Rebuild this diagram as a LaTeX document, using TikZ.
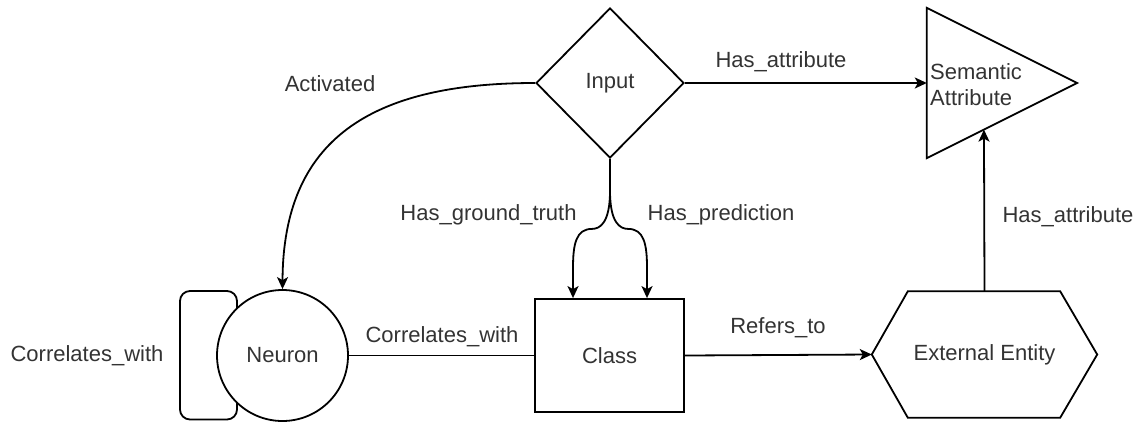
\documentclass[tikz,border=0pt]{standalone}
\usepackage{fontspec}
\setmainfont{Liberation Sans}
\usetikzlibrary{shapes.geometric,arrows.meta,calc}
\definecolor{ink}{HTML}{333333}
\begin{document}
\begin{tikzpicture}[x=1pt,y=-1pt,
  every node/.style={font=\fontsize{22}{26}\selectfont, text=ink},
  edge/.style={line width=1.8pt, draw=black},
  arr/.style={edge, -{Stealth[length=12pt,width=11pt,inset=3pt]}},
  shapeline/.style={line width=1.8pt, draw=black},
  lbl/.style={inner sep=0pt}]
\useasboundingbox (0,0) rectangle (1139,421);

% main entities
\node[diamond, shapeline, minimum width=148pt, minimum height=150pt, inner sep=0pt] (input) at (610,83) {Input};
\node[circle, shapeline, minimum size=131pt, inner sep=0pt] (neuron) at (282.5,355.5) {Neuron};
\node[rectangle, shapeline, minimum width=149pt, minimum height=113pt, inner sep=0pt] (class) at (609.5,355.5) {Class};

% hexagon: External Entity
\node[minimum width=225pt, minimum height=126pt, inner sep=0pt] (ext) at (984.5,354.5) {External Entity};
\draw[shapeline] (ext.west) -- ([xshift=36pt]ext.north west) -- ([xshift=-37pt]ext.north east)
  -- (ext.east) -- ([xshift=-37pt]ext.south east) -- ([xshift=36pt]ext.south west) -- cycle;

% triangle: Semantic Attribute
\node[minimum width=150pt, minimum height=150pt, inner sep=0pt] (sem) at (1002,83) {};
\draw[shapeline, line join=miter] (sem.north west) -- (sem.east) -- (sem.south west) -- cycle;
\node[anchor=west, align=left, inner sep=0pt] (semtxt) at (930,85) {Semantic\\Attribute};
\coordinate (semin) at ($(sem.south west)!0.38!(sem.east)$);

% self loop on the neuron
\draw[edge, rounded corners=10pt]
  ($(neuron.center)+(-45.5,-47)$) -- ($(neuron.center)+(-45.5,-64.5)$)
  -- ($(neuron.center)+(-102.5,-64.5)$) -- ($(neuron.center)+(-102.5,64)$)
  -- ($(neuron.center)+(-45.5,64)$) -- ($(neuron.center)+(-45.5,47)$);
\node[lbl] (lloop) at (87,356) {Correlates\_with};

% Input -> Semantic Attribute
\draw[arr] (input.east) -- (sem.west);
\node[lbl] (lhas1) at (781,62) {Has\_attribute};

% Input -> Neuron
\draw[arr] (input.west) .. controls (370,83) and (283,140) .. (neuron.north);
\node[lbl] (lact) at (330,84) {Activated};

% Input -> Class (ground truth and prediction)
\coordinate (split) at ($(input.south)+(0,32)$);
\coordinate (gtin) at ($(class.north)+(-36.5,0)$);
\coordinate (prin) at ($(class.north)+(37.5,0)$);
\draw[arr] (input.south) -- (split) .. controls ($(split)+(0,32)$) and ($(split)+(-10,38)$) .. ($(split)+(-18,38)$)
  .. controls ($(split)+(-34,38)$) and ($(gtin)+(0,-54)$) .. ($(gtin)+(0,-30)$) -- (gtin);
\draw[arr] (input.south) -- (split) .. controls ($(split)+(0,32)$) and ($(split)+(10,38)$) .. ($(split)+(18,38)$)
  .. controls ($(split)+(34,38)$) and ($(prin)+(0,-54)$) .. ($(prin)+(0,-30)$) -- (prin);
\node[lbl] (lgt) at (488.5,215) {Has\_ground\_truth};
\node[lbl] (lpr) at (721,215) {Has\_prediction};

% Neuron -- Class
\draw[edge] (neuron.east) -- (class.west);
\node[lbl] (lcor) at (442,337) {Correlates\_with};

% Class -> External Entity
\draw[arr] (class.east) -- (ext.west);
\node[lbl] (lref) at (778,328) {Refers\_to};

% External Entity -> Semantic Attribute
\draw[arr] (ext.north) -- (semin);
\node[lbl] (lhas2) at (1068,217) {Has\_attribute};
\end{tikzpicture}
\end{document}
